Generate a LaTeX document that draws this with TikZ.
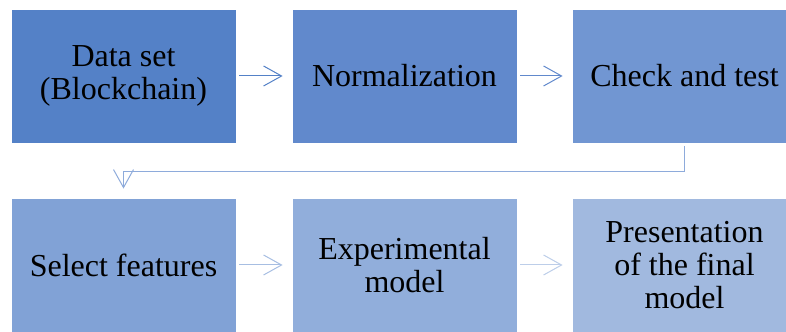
\documentclass[tikz,border=0pt]{standalone}
\usepackage{fontspec}
\setmainfont{Liberation Serif}
\usetikzlibrary{arrows.meta}

\definecolor{stepA}{HTML}{5481C7}
\definecolor{stepB}{HTML}{6189CC}
\definecolor{stepC}{HTML}{7196D2}
\definecolor{stepD}{HTML}{81A2D6}
\definecolor{stepE}{HTML}{91AEDB}
\definecolor{stepF}{HTML}{A1B9DF}

\begin{document}
\begin{tikzpicture}[x=0.75pt, y=0.75pt,
  box/.style={draw=white, line width=0.6pt, minimum width=168.75pt, minimum height=100.5pt,
    inner sep=0pt, align=center, text=black, font=\fontsize{24}{24.5}\selectfont},
  link/.style={line width=0.75pt, -{Straight Barb[length=13.5pt, width=15pt]},
    shorten <=2.25pt, shorten >=6.75pt}]

\useasboundingbox (0,0) rectangle (786,332);

\coordinate (A) at (123.5,256);
\coordinate (B) at (404.5,256);
\coordinate (C) at (684.5,256);
\coordinate (D) at (123.5,67);
\coordinate (E) at (404.5,67);
\coordinate (F) at (684.5,67);


\node [box, fill=stepA] (data) at (A) {Data set\\(Blockchain)};
\node [box, fill=stepB] (norm) at (B) {Normalization};
\node [box, fill=stepC] (check) at (C) {Check and test};
\node [box, fill=stepD] (select) at (D) {Select features};
\node [box, fill=stepE] (exper) at (E) {Experimental\\model};
\node [box, fill=stepF] (final) at (F) {Presentation\\of the final\\model};


\draw [link, stepA] (data) -- (norm);
\draw [link, stepB] (norm) -- (check);
\draw [link, stepC!80!white] (check.south) -- ++(0,-28) -| (select.north);
\draw [link, stepD!70!white] (select) -- (exper);
\draw [link, stepE!60!white] (exper) -- (final);


\end{tikzpicture}
\end{document}
